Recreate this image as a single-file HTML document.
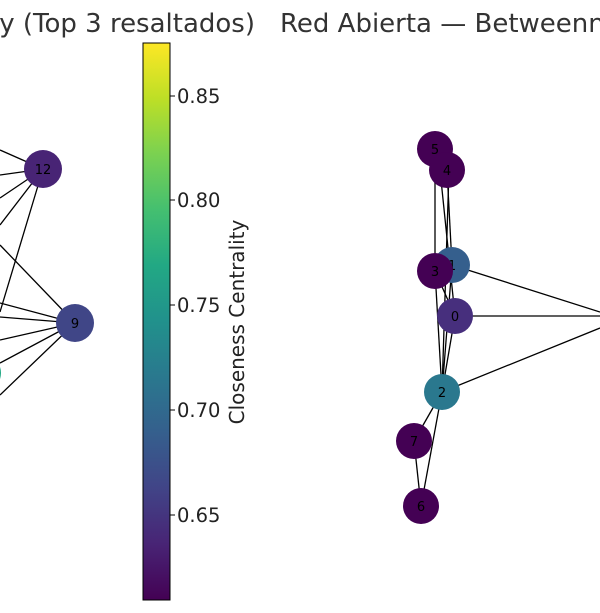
<!DOCTYPE html>
<html><head><style>body{margin:0;background:#fff}svg{display:block}</style></head><body>
<svg width="600" height="613" xmlns="http://www.w3.org/2000/svg" font-family="DejaVu Sans, Liberation Sans, sans-serif">
<defs><linearGradient id="vir" x1="0" y1="1" x2="0" y2="0">
<stop offset="0" stop-color="#440154"/><stop offset=".1" stop-color="#482475"/><stop offset=".2" stop-color="#414487"/><stop offset=".3" stop-color="#355f8d"/><stop offset=".4" stop-color="#2a788e"/><stop offset=".5" stop-color="#21918c"/><stop offset=".6" stop-color="#22a884"/><stop offset=".7" stop-color="#44bf70"/><stop offset=".8" stop-color="#7ad151"/><stop offset=".9" stop-color="#bddf26"/><stop offset="1" stop-color="#fde725"/></linearGradient></defs>
<text x="255" y="32" font-size="26" fill="#333" text-anchor="end">y (Top 3 resaltados)</text>
<text x="280" y="32" font-size="26" fill="#333">Red Abierta — Betweenness</text>
<g stroke="#000" stroke-width="1.3">
<line x1="0" y1="150" x2="43" y2="169"/><line x1="0" y1="175" x2="43" y2="169"/><line x1="0" y1="198" x2="43" y2="169"/><line x1="0" y1="225" x2="43" y2="169"/><line x1="0" y1="312" x2="43" y2="169"/>
<line x1="0" y1="245" x2="75" y2="323"/><line x1="0" y1="303" x2="75" y2="323"/><line x1="0" y1="317" x2="75" y2="323"/><line x1="0" y1="340" x2="75" y2="323"/><line x1="0" y1="363" x2="75" y2="323"/><line x1="0" y1="395" x2="75" y2="323"/>
<line x1="435" y1="149" x2="435" y2="271"/><line x1="447" y1="170" x2="452" y2="265"/><line x1="440" y1="170" x2="455" y2="316"/><line x1="449" y1="170" x2="442" y2="392"/>
<line x1="435" y1="271" x2="455" y2="316"/><line x1="435" y1="271" x2="442" y2="392"/><line x1="452" y1="265" x2="442" y2="392"/><line x1="455" y1="316" x2="442" y2="392"/>
<line x1="452" y1="265" x2="600" y2="312"/><line x1="455" y1="316" x2="600" y2="316"/><line x1="442" y1="392" x2="600" y2="328"/>
<line x1="442" y1="392" x2="414" y2="441"/><line x1="442" y1="392" x2="421" y2="506"/><line x1="414" y1="441" x2="421" y2="506"/>
</g>
<circle cx="43" cy="169" r="19" fill="#482475"/><text x="43" y="174" font-size="13" text-anchor="middle">12</text>
<circle cx="75" cy="323" r="19" fill="#404687"/><text x="75" y="328" font-size="13" text-anchor="middle">9</text>
<circle cx="-18" cy="373" r="19" fill="#22a884"/>
<circle cx="435" cy="149" r="18" fill="#440154"/><text x="435" y="154" font-size="13" text-anchor="middle">5</text>
<circle cx="447" cy="170" r="18" fill="#440154"/><text x="447" y="175" font-size="13" text-anchor="middle">4</text>
<circle cx="452" cy="265" r="18" fill="#355f8d"/><text x="452" y="270" font-size="13" text-anchor="middle">1</text>
<circle cx="435" cy="271" r="18" fill="#440154"/><text x="435" y="276" font-size="13" text-anchor="middle">3</text>
<circle cx="455" cy="316" r="18" fill="#472f7d"/><text x="455" y="321" font-size="13" text-anchor="middle">0</text>
<circle cx="442" cy="392" r="18" fill="#2a788e"/><text x="442" y="397" font-size="13" text-anchor="middle">2</text>
<circle cx="414" cy="441" r="18" fill="#440154"/><text x="414" y="446" font-size="13" text-anchor="middle">7</text>
<circle cx="421" cy="506" r="18" fill="#440154"/><text x="421" y="511" font-size="13" text-anchor="middle">6</text>
<rect x="143" y="43" width="27" height="557" fill="url(#vir)" stroke="#000" stroke-width="1"/>
<g font-size="19.5" fill="#222" stroke="none">
<line x1="170" y1="96" x2="175" y2="96" stroke="#000"/><text x="177" y="103">0.85</text>
<line x1="170" y1="200" x2="175" y2="200" stroke="#000"/><text x="177" y="207">0.80</text>
<line x1="170" y1="305" x2="175" y2="305" stroke="#000"/><text x="177" y="312">0.75</text>
<line x1="170" y1="410" x2="175" y2="410" stroke="#000"/><text x="177" y="417">0.70</text>
<line x1="170" y1="515" x2="175" y2="515" stroke="#000"/><text x="177" y="522">0.65</text>
</g>
<text transform="translate(244,322) rotate(-90)" font-size="20" fill="#222" text-anchor="middle">Closeness Centrality</text>
</svg>
</body></html>
